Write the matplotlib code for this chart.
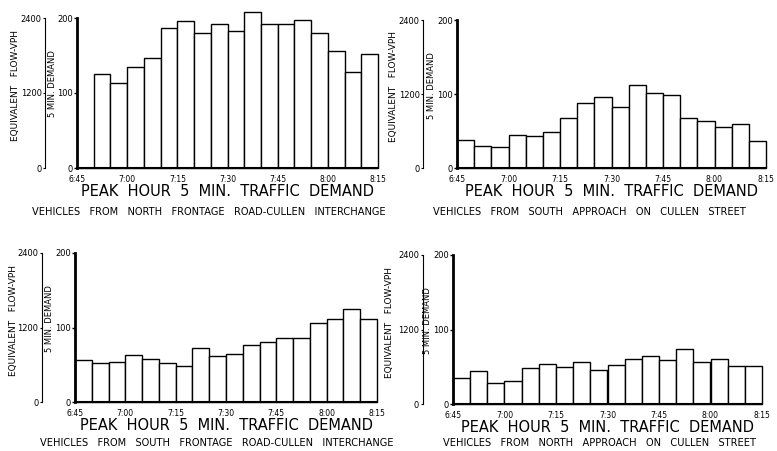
import numpy as np
import matplotlib.pyplot as plt

# 5-minute demand counts, 6:45 -> 8:15 (18 intervals)
start_min = np.arange(0, 90, 5)  # minutes after 6:45
tick_pos = [0, 15, 30, 45, 60, 75, 90]
tick_labels = ['6:45', '7:00', '7:15', '7:30', '7:45', '8:00', '8:15']

north_frontage = [0, 126, 114, 135, 147, 187, 196, 180, 192, 183, 208, 192, 192, 197, 180, 156, 128, 152]
south_approach = [38, 30, 28, 44, 43, 48, 68, 88, 96, 83, 112, 101, 98, 67, 63, 56, 59, 36]
south_frontage = [56, 52, 54, 63, 58, 52, 48, 73, 62, 64, 77, 81, 86, 86, 106, 111, 125, 112]
north_approach = [35, 44, 28, 31, 48, 54, 49, 56, 45, 52, 60, 64, 59, 74, 56, 60, 51, 51]

title = 'PEAK  HOUR  5  MIN.  TRAFFIC  DEMAND'
subtitles = ['VEHICLES   FROM   NORTH   FRONTAGE   ROAD-CULLEN   INTERCHANGE',
             'VEHICLES   FROM   SOUTH   APPROACH   ON   CULLEN   STREET',
             'VEHICLES   FROM   SOUTH   FRONTAGE   ROAD-CULLEN   INTERCHANGE',
             'VEHICLES   FROM   NORTH   APPROACH   ON   CULLEN   STREET']
series = [north_frontage, south_approach, south_frontage, north_approach]

W, H = 777, 451
fig = plt.figure(figsize=(W / 100, H / 100), dpi=100, facecolor='w')

# panel boxes in pixels: left, right, y of 0, y of 200, secondary axis offset,
# subtitle left, subtitle y
boxes = [(77, 378, 168, 18, -0.106, 32, 212),
         (457, 766, 168, 20, -0.109, 433, 212),
         (75, 377, 402, 253, -0.110, 40, 443),
         (453, 762, 404, 255, -0.098, 443, 443)]

for vals, (l, r, y0, y2, sec_loc, sub_x, sub_y), sub in zip(series, boxes, subtitles):
    ax = fig.add_axes([l / W, 1 - y0 / H, (r - l) / W, (y0 - y2) / H])
    ax.bar(start_min, vals, width=5, align='edge', color='white',
           edgecolor='black', linewidth=1.0, clip_on=False)
    ax.set_xlim(0, 90)
    ax.set_ylim(0, 200)
    for s in ['top', 'right']:
        ax.spines[s].set_visible(False)
    ax.spines['left'].set_linewidth(2.0)
    ax.spines['bottom'].set_linewidth(1.5)
    ax.set_yticks([0, 100, 200])
    ax.tick_params(axis='y', labelsize=6, length=2, width=1, pad=1)
    ax.set_xticks(tick_pos)
    ax.set_xticklabels(tick_labels)
    ax.tick_params(axis='x', labelsize=5.5, length=0, pad=5)

    sec = ax.secondary_yaxis(sec_loc, functions=(lambda v: v * 12, lambda v: v / 12))
    sec.set_yticks([0, 1200, 2400])
    sec.spines['left'].set_linewidth(0.8)
    sec.tick_params(labelsize=6, length=1.5, width=0.8, pad=1)

    ax.text(-0.083, 0.56, '5 MIN. DEMAND', transform=ax.transAxes, rotation=90,
            ha='center', va='center', fontsize=6)
    ax.text(-0.205, 0.55, 'EQUIVALENT   FLOW-VPH', transform=ax.transAxes, rotation=90,
            ha='center', va='center', fontsize=6.5)

    ax.text(0.5, -0.16, title, transform=ax.transAxes, ha='center', va='center',
            fontsize=10.5)
    fig.text(sub_x / W, 1 - sub_y / H, sub, ha='left', va='center', fontsize=7.1)

fig.savefig('out.png', dpi=100)
